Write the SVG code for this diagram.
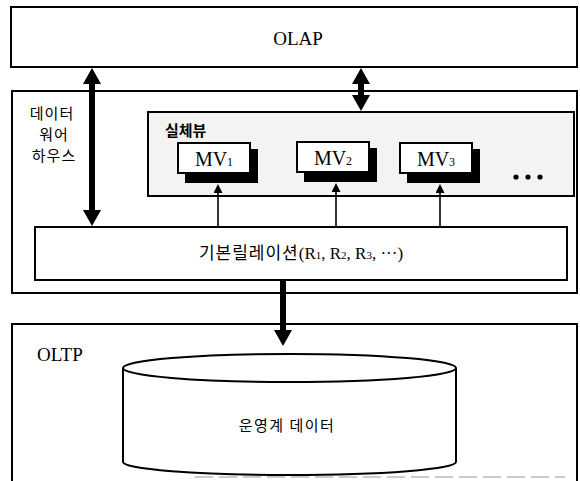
<svg xmlns="http://www.w3.org/2000/svg" width="580" height="481" viewBox="0 0 580 481">
<style>
.box{fill:#fff;stroke:#000;stroke-width:2}
.grp{fill:#f3f3f3;stroke:#000;stroke-width:2}
.shadow{fill:#000}
.serif{font-family:"Liberation Serif","Times New Roman",serif;fill:#000}
.kr{font-family:"Noto Sans CJK KR","Noto Sans",sans-serif;fill:#000}
.thick{stroke:#000;stroke-width:6;fill:none}
.thin{stroke:#000;stroke-width:1.6;fill:none}
</style>
<defs>
<marker id="big" viewBox="0 -9 16 18" refX="1" refY="0" markerWidth="16" markerHeight="18" markerUnits="userSpaceOnUse" orient="auto-start-reverse">
<path d="M0,-9 L16,0 L0,9 z" fill="#000"/>
</marker>
<marker id="small" viewBox="0 -4.5 9 9" refX="1" refY="0" markerWidth="9" markerHeight="9" markerUnits="userSpaceOnUse" orient="auto">
<path d="M0,-4.5 L9,0 L0,4.5 z" fill="#000"/>
</marker>
</defs>

<g id="olap">
<rect class="box" x="11" y="7" width="566" height="60"/>
<text class="serif" x="298" y="45" font-size="19" text-anchor="middle">OLAP</text>
</g>

<g id="warehouse">
<rect class="box" x="12" y="91" width="565" height="202"/>
<text class="kr" x="52" y="119" font-size="15" text-anchor="middle" letter-spacing="1">데이터</text>
<text class="kr" x="54" y="140" font-size="15" text-anchor="middle" letter-spacing="1">워어</text>
<text class="kr" x="54" y="161" font-size="15" text-anchor="middle" letter-spacing="1">하우스</text>
</g>

<g id="materialized-views">
<rect class="grp" x="148" y="112" width="426" height="84"/>
<text class="kr" x="165" y="136" font-size="15" font-weight="bold">실체뷰</text>
<circle cx="516" cy="177" r="2.6" fill="#000"/>
<circle cx="528" cy="177" r="2.6" fill="#000"/>
<circle cx="540" cy="177" r="2.6" fill="#000"/>
</g>

<g id="mv1">
<rect class="shadow" x="185" y="149" width="73" height="34"/>
<rect class="box" x="178" y="143" width="72" height="30"/>
<text class="serif" x="214" y="166" font-size="20" text-anchor="middle">MV<tspan font-size="12">1</tspan></text>
</g>
<g id="mv2">
<rect class="shadow" x="304" y="148" width="73" height="34"/>
<rect class="box" x="297" y="142" width="72" height="30"/>
<text class="serif" x="333" y="165" font-size="20" text-anchor="middle">MV<tspan font-size="12">2</tspan></text>
</g>
<g id="mv3">
<rect class="shadow" x="407" y="149" width="73" height="34"/>
<rect class="box" x="400" y="143" width="72" height="30"/>
<text class="serif" x="436" y="166" font-size="20" text-anchor="middle">MV<tspan font-size="12">3</tspan></text>
</g>

<g id="base-relations">
<rect class="box" x="35" y="227" width="532" height="53"/>
<text x="301" y="259" font-size="17" text-anchor="middle"><tspan class="kr" letter-spacing="1">기본릴레이션</tspan><tspan class="serif">(R<tspan font-size="11">1</tspan>, R<tspan font-size="11">2</tspan>, R<tspan font-size="11">3</tspan>, ···)</tspan></text>
</g>

<g id="oltp">
<path d="M12,481 L12,324 L577,324 L577,481" fill="none" stroke="#000" stroke-width="2"/>
<line x1="195" y1="477" x2="565" y2="477" stroke="#bbb" stroke-width="1.5" stroke-dasharray="18,6"/>
<text class="serif" x="37" y="361" font-size="19">OLTP</text>
</g>

<g id="operational-data">
<path d="M123,368 L123,462 A166.5,13 0 0 0 456,462 L456,368" fill="#fff" stroke="#000" stroke-width="2"/>
<ellipse cx="289.5" cy="368" rx="166.5" ry="14" fill="#fff" stroke="#000" stroke-width="2"/>
<text class="kr" x="287" y="431" font-size="15" text-anchor="middle" letter-spacing="1.5">운영계 데이터</text>
</g>

<g id="connectors">
<line class="thick" x1="92" y1="83" x2="92" y2="211" marker-start="url(#big)" marker-end="url(#big)"/>
<line class="thick" x1="361" y1="83" x2="361" y2="96" marker-start="url(#big)" marker-end="url(#big)"/>
<line class="thick" x1="283" y1="280" x2="283" y2="331" marker-end="url(#big)"/>
<line class="thin" x1="218" y1="227" x2="218" y2="192" marker-end="url(#small)"/>
<line class="thin" x1="336" y1="227" x2="336" y2="191" marker-end="url(#small)"/>
<line class="thin" x1="440" y1="227" x2="440" y2="192" marker-end="url(#small)"/>
</g>
</svg>
